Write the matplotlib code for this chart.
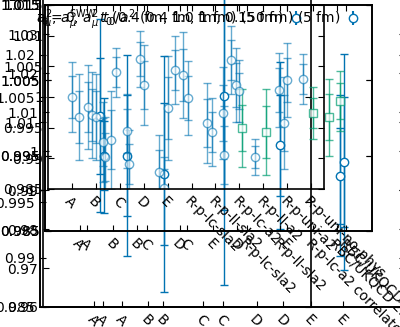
import matplotlib
matplotlib.use("Agg")
import matplotlib.pyplot as plt
import numpy as np

nan = np.nan

# ---- data -------------------------------------------------------------
main_cats = ["A", "B", "C", "D", "E", "R-p-lc-sla2", "R-p-ll-sla2",
             "R-p-lc-a2", "R-p-ll-a2", "R-p-uni-a2", "R-p-uni-no-phys"]
main_s1 = [nan, 0.99837, 0.9930, nan, 0.98778, 1.00358, 0.99576, 1.00603, 0.99023, 1.00114, 1.00293]
main_s1_err = [nan, 0.0069, 0.008, nan, 0.006, 0.007, 0.0065, 0.0055, 0.003, 0.006, 0.004]
main_s2 = [nan, 0.99707, 1.00407, 1.00619, 0.98518, 0.99984, 0.9943, 1.00195, nan, 0.99576, nan]
main_s2_err = [nan, 0.007, 0.004, 0.0045, 0.005, 0.006, 0.0055, 0.006, nan, 0.0075, nan]
main_s3 = [1.0, 0.99674, nan, 1.00195, 0.99821, nan, nan, 1.00098, nan, 1.00277, nan]
main_s3_err = [0.0057, 0.007, nan, 0.0065, 0.0085, nan, nan, 0.005, nan, 0.006, nan]
main_s4 = [0.99674, 0.99267, 0.99446, nan, 1.0044, nan, 0.99739, nan, nan, nan, nan]
main_s4_err = [0.007, 0.0065, 0.006, nan, 0.0055, nan, 0.0075, nan, nan, nan, nan]
main_s5 = [nan, 0.99023, 0.98909, nan, nan, nan, 0.99055, nan, nan, nan, nan]
main_s5_err = [nan, 0.0065, 0.0055, nan, nan, nan, 0.008, nan, nan, nan, nan]
main_green = [nan, nan, nan, nan, nan, nan, nan, 0.99495, 0.9943, nan, 0.99739]
main_green_err = [nan, nan, nan, nan, nan, nan, nan, 0.0063, 0.007, nan, 0.0042]

wide_cats = ["A", "B", "C", "D", "E"]
wide_g1 = [1.011, nan, nan, 1.0066, 1.0021]
wide_g1_err = [0.0143, nan, nan, 0.0124, 0.0119]
wide_g2 = [1.0051, 1.0024, 1.0139, nan, 1.0042]
wide_g2_err = [0.0085, 0.0175, 0.028, nan, 0.016]
wide_g3 = [1.0051, nan, nan, nan, nan]
wide_g3_err = [0.0149, nan, nan, nan, nan]

mid_cats = ["A", "B", "C", "D", "E", "RBC/UKQCD 23"]
mid_green1 = [nan, nan, nan, nan, nan, 1.0001]
mid_green1_err = [nan, nan, nan, nan, nan, 0.0051]
mid_green2 = [nan, nan, nan, nan, nan, 1.0023]
mid_green2_err = [nan, nan, nan, nan, nan, 0.004]

alt_cats = ["A", "B", "C", "D", "E", "R-p-lc-sla2", "R-p-ll-sla2",
            "R-p-lc-a2 correlated fit", "RBC/UKQCD 23"]
far_cats = ["A", "B", "C", "D", "E"]
lone_cats = ["A", "B"]

legend_labels = [r"$t_0 = 0$, $a_\mu^2$ $t_0/a^2$ (0.4 fm, 1 fm) (5 fm)",
                 r"$a_\mu^2$, $a_\mu^{\rm SWW}$ $t_0$(0.4 fm, 1.0 fm, 0.150 fm) (5 fm)"]

BLUE = "#0173b2"
GREEN = "#029e73"

W, H = 400, 327
fig = plt.figure(figsize=(W / 100, H / 100), dpi=100)


def add_ax(left, top, right, bottom, first, step, cats, ylim, yticks):
    ax = fig.add_axes([left / W, 1 - bottom / H, (right - left) / W, (bottom - top) / H])
    ax.patch.set_visible(False)
    ax.set_xlim((left - first) / step, (right - first) / step)
    ax.set_ylim(*ylim)
    ax.set_xticks(range(len(cats)))
    ax.set_xticklabels(cats, rotation=-45, ha="left", rotation_mode="anchor")
    ax.set_yticks(yticks)
    ax.set_yticklabels([f"{v:g}" for v in yticks])
    ax.tick_params(direction="in", top=True, right=True, labelsize=10, length=4)
    for s in ax.spines.values():
        s.set_linewidth(1.2)
    return ax


def draw(ax, vals, errs, off, color, alpha, marker="o"):
    x = np.arange(len(vals)) + off
    v = np.array(vals)
    e = np.array(errs)
    # total error, then statistical error with the marker
    ax.errorbar(x, v, yerr=e, fmt="none", ecolor=color, alpha=alpha, capsize=3, lw=1)
    ax.errorbar(x, v, yerr=0.6 * e, fmt=marker, color=color, mfc="white", mec=color,
                alpha=alpha, ms=6, capsize=3, lw=1)


# bottom-most wide axes
ax_far = add_ax(40, -8, 311, 307, 100, 60, far_cats, (0.985, 1.015),
                [0.985, 0.995, 1.005, 1.015])
ax_lone = add_ax(43, -8, 405, 307, 127, 300, lone_cats, (0.96, 1.0408),
                 np.round(np.arange(0.96, 1.041, 0.01), 2))
ax_wide = add_ax(40, -8, 405, 307, 103, 60, wide_cats, (0.9827, 1.0293),
                 [0.99, 1.0, 1.01, 1.02])
draw(ax_wide, wide_g1, wide_g1_err, -0.05, BLUE, 1.0)
draw(ax_wide, wide_g2, wide_g2_err, 0.02, BLUE, 1.0)
draw(ax_wide, wide_g3, wide_g3_err, 0.4, BLUE, 1.0)

# middle axes
ax_alt = add_ax(45, 5, 372, 231, 80, 33.3, alt_cats, (0.985, 1.015),
                [0.985, 0.995, 1.005, 1.015])
ax_mid = add_ax(45, 5, 372, 231, 87, 50, mid_cats, (0.985, 1.015),
                [0.985, 0.995, 1.005, 1.015])
draw(ax_mid, mid_green1, mid_green1_err, -0.16, GREEN, 0.7, "s")
draw(ax_mid, mid_green2, mid_green2_err, 0.06, GREEN, 0.7, "s")

# main axes
ax = add_ax(48, 5, 324, 189, 72, 23.9, main_cats, (0.985, 1.015),
            np.round(np.arange(0.985, 1.0151, 0.005), 3))
draw(ax, main_s1, main_s1_err, -0.35, BLUE, 0.6)
draw(ax, main_s2, main_s2_err, -0.15, BLUE, 0.6)
draw(ax, main_s3, main_s3_err, 0.0, BLUE, 0.6)
draw(ax, main_s4, main_s4_err, 0.3, BLUE, 0.6)
draw(ax, main_s5, main_s5_err, 0.38, BLUE, 0.6)
draw(ax, main_green, main_green_err, 0.1, GREEN, 0.7, "s")

# overlapping legends along the top
for text in legend_labels:
    h = ax.errorbar([], [], yerr=[], fmt="o", color=BLUE, mfc="white", capsize=3)
    fig.legend([h], [text], loc="upper left", bbox_to_anchor=(0.075, 0.995),
               frameon=False, markerfirst=False, fontsize=10, handlelength=1.5,
               borderaxespad=0, handletextpad=0.2)

fig.savefig("out.png", dpi=100)
